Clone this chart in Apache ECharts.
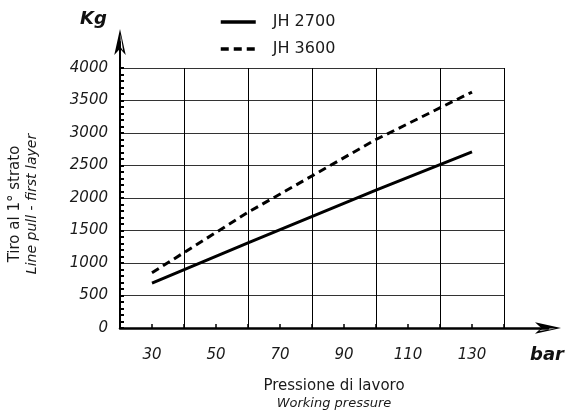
<!DOCTYPE html>
<html><head><meta charset="utf-8">
<script src="https://cdn.jsdelivr.net/npm/echarts@6/dist/echarts.min.js"></script>
<style>html,body{margin:0;padding:0;background:#fff}#c{width:567px;height:417px}</style>
</head><body><div id="c"></div>
<script>
const seriesNames = ['JH 2700', 'JH 3600'];
const pressureJH2700 = [30, 60, 100, 130];
const pullJH2700 = [690, 1310, 2120, 2710];
const pressureJH3600 = [30, 60, 100, 130];
const pullJH3600 = [850, 1780, 2900, 3630];
const xLabelValues = [30, 50, 70, 90, 110, 130];
const xRange = [20, 140];
const yRange = [0, 4000];

const FONT = 'DejaVu Sans';
const INK = '#1a1a1a';
const ARROW = 'path://M11 0 L0 50 L11 38 Z M11 0 L22 50 L11 38 Z M12.2 10 L12.2 34.5 L17 42 Z';

const chart = echarts.init(document.getElementById('c'), null, {renderer: 'canvas'});
chart.setOption({
  animation: false,
  backgroundColor: '#fff',
  title: [
    {text: 'Kg', left: 80, top: 10, padding: 0,
     textStyle: {fontFamily: FONT, fontSize: 18, fontWeight: 'bold', fontStyle: 'italic', color: '#111'}},
    {text: 'bar', left: 530, top: 346, padding: 0,
     textStyle: {fontFamily: FONT, fontSize: 18, fontWeight: 'bold', fontStyle: 'italic', color: '#111'}}
  ],
  legend: {
    data: seriesNames, orient: 'vertical', left: 219, top: 14, padding: 0,
    itemWidth: 35, itemHeight: 14, itemGap: 11, selectedMode: false,
    itemStyle: {color: 'rgba(0,0,0,0)', borderColor: 'rgba(0,0,0,0)', borderWidth: 0, opacity: 0},
    lineStyle: {width: 3.5},
    textStyle: {fontFamily: FONT, fontSize: 16, color: INK, padding: [0, 0, 0, 12]}
  },
  grid: [
    {left: 120, top: 68, width: 384, height: 260},
    {left: 120, top: 42, width: 428, height: 286}
  ],
  xAxis: [
    {gridIndex: 0, type: 'value', min: xRange[0], max: xRange[1], interval: 10,
     axisLine: {show: false},
     axisTick: {show: true, inside: true, length: 4, lineStyle: {color: '#000', width: 1.5}},
     axisLabel: {margin: 20, fontFamily: FONT, fontSize: 15, fontStyle: 'italic', color: INK,
       formatter: v => xLabelValues.includes(v) ? String(v) : ''},
     splitLine: {show: false}},
    {gridIndex: 0, type: 'value', min: xRange[0], max: xRange[1], interval: 20, position: 'top',
     axisLine: {show: false}, axisTick: {show: false}, axisLabel: {show: false},
     splitLine: {show: true, lineStyle: {color: '#000', width: 1}}},
    {gridIndex: 1, type: 'value', min: 0, max: 1,
     axisLine: {show: true, lineStyle: {color: '#000', width: 2.5}, symbol: ['none', ARROW], symbolSize: [13, 26]},
     axisTick: {show: false}, axisLabel: {show: false}, splitLine: {show: false},
     name: '{a|Pressione di lavoro}\n{b|Working pressure}', nameLocation: 'middle', nameGap: 50,
     nameTextStyle: {rich: {
       a: {fontFamily: FONT, fontSize: 15, color: INK, lineHeight: 17},
       b: {fontFamily: FONT, fontSize: 13, fontStyle: 'italic', color: INK, lineHeight: 17}
     }}}
  ],
  yAxis: [
    {gridIndex: 0, type: 'value', min: yRange[0], max: yRange[1], interval: 500,
     axisLine: {show: false},
     axisTick: {show: true, inside: true, length: 4, lineStyle: {color: '#000', width: 2}},
     minorTick: {show: true, splitNumber: 5, length: 4, lineStyle: {color: '#000', width: 2}},
     axisLabel: {margin: 12, fontFamily: FONT, fontSize: 15, fontStyle: 'italic', color: INK,
       formatter: v => String(v)},
     splitLine: {show: true, lineStyle: {color: '#333', width: 1.2}},
     name: '{a|Tiro al 1° strato}\n{b|Line pull - first layer}', nameLocation: 'middle', nameRotate: 90, nameGap: 79,
     nameTextStyle: {padding: [0, 12, 0, 0], rich: {
       a: {fontFamily: FONT, fontSize: 15, color: INK, lineHeight: 17},
       b: {fontFamily: FONT, fontSize: 14, fontStyle: 'italic', color: INK, lineHeight: 17}
     }}},
    {gridIndex: 1, type: 'value', min: 0, max: 1,
     axisLine: {show: true, lineStyle: {color: '#000', width: 2}, symbol: ['none', ARROW], symbolSize: [13, 26]},
     axisTick: {show: false}, axisLabel: {show: false}, splitLine: {show: false}}
  ],
  series: [
    {name: seriesNames[0], type: 'line', xAxisIndex: 0, yAxisIndex: 0,
     data: pressureJH2700.map((x, i) => [x, pullJH2700[i]]),
     symbol: 'none', z: 5, itemStyle: {color: '#000'},
     lineStyle: {color: '#000', width: 3}},
    {name: seriesNames[1], type: 'line', xAxisIndex: 0, yAxisIndex: 0,
     data: pressureJH3600.map((x, i) => [x, pullJH3600[i]]),
     symbol: 'none', z: 5, itemStyle: {color: '#000'},
     lineStyle: {color: '#000', width: 3, type: [8, 5]}}
  ]
});
</script></body></html>
